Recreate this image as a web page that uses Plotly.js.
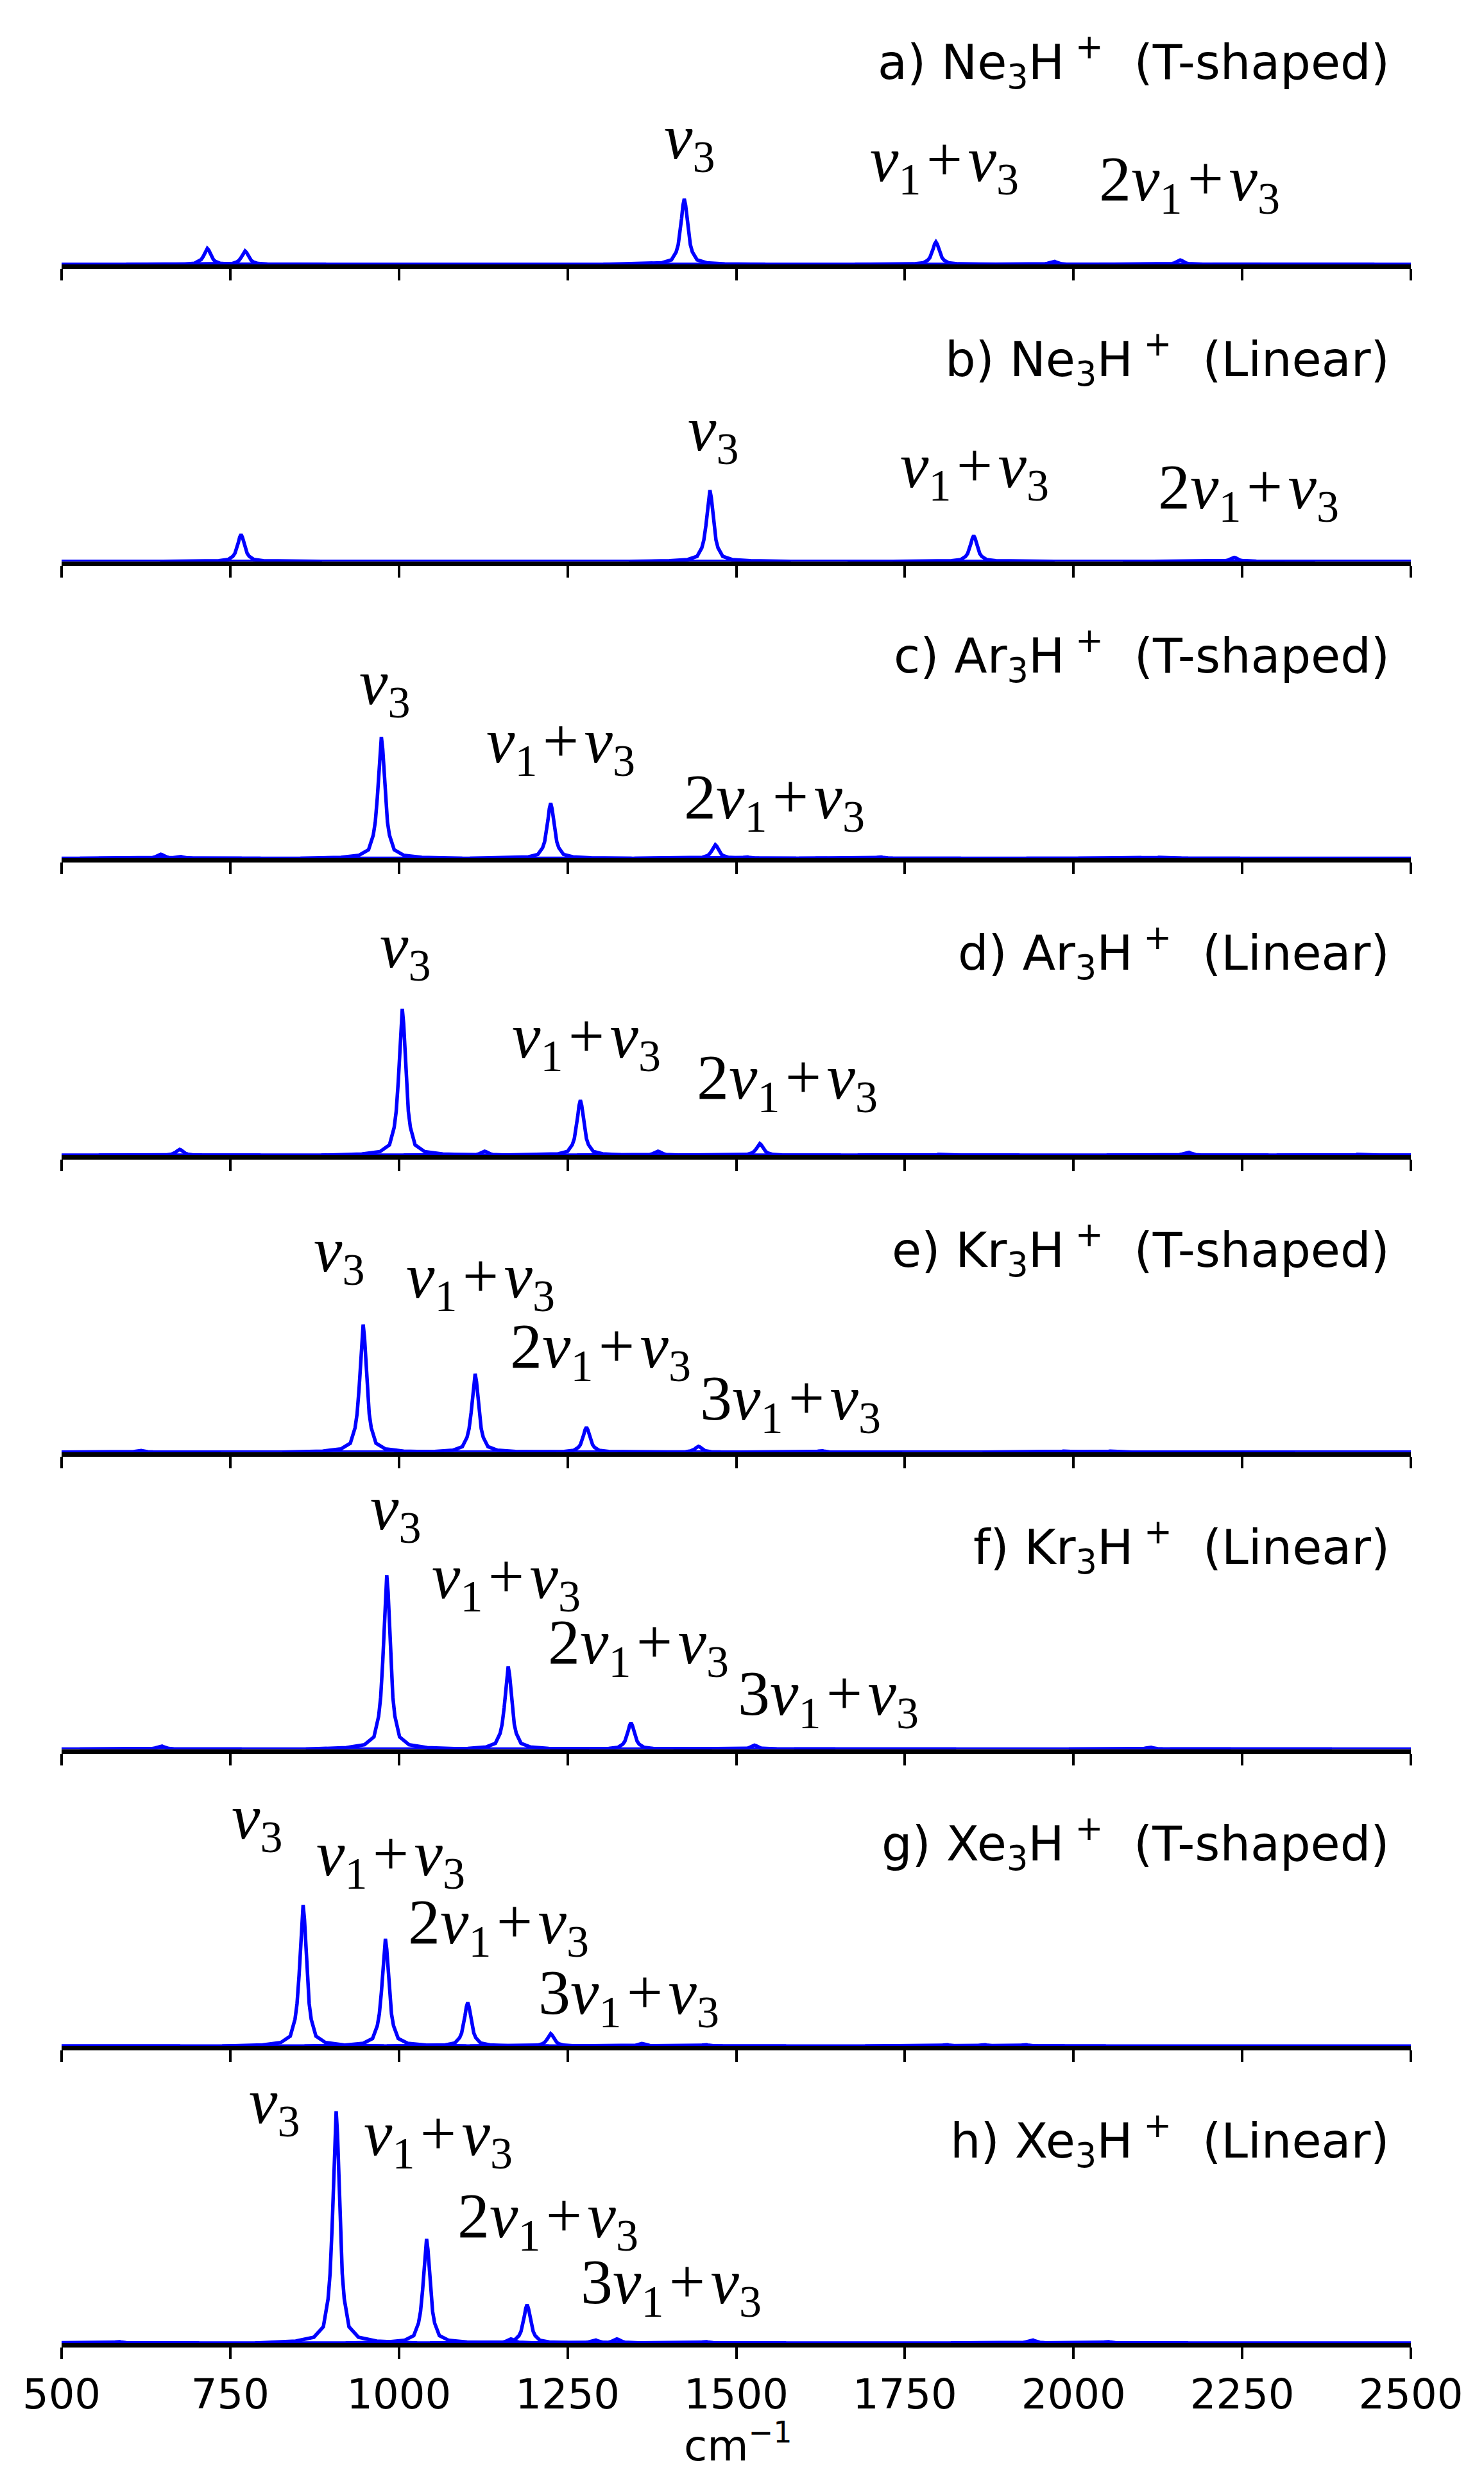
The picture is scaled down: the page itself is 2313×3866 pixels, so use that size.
<!DOCTYPE html>
<html>
<head>
<meta charset="utf-8">
<script src="https://cdn.plot.ly/plotly-3.0.1.min.js"></script>
<style>
  html, body { margin: 0; padding: 0; background: #ffffff; }
  #chart { width: 2313px; height: 3866px; }
</style>
</head>
<body>
<div id="chart"></div>
<script>
// ---------------- DATA ----------------
// Peak positions (cm^-1) and peak intensities (arbitrary units, tallest = 1)
const panelTitles = [
  "a) Ne<sub>3</sub>H<sup>\u00a0+</sup>\u00a0\u00a0(T-shaped)",
  "b) Ne<sub>3</sub>H<sup>\u00a0+</sup>\u00a0\u00a0(Linear)",
  "c) Ar<sub>3</sub>H<sup>\u00a0+</sup>\u00a0\u00a0(T-shaped)",
  "d) Ar<sub>3</sub>H<sup>\u00a0+</sup>\u00a0\u00a0(Linear)",
  "e) Kr<sub>3</sub>H<sup>\u00a0+</sup>\u00a0\u00a0(T-shaped)",
  "f) Kr<sub>3</sub>H<sup>\u00a0+</sup>\u00a0\u00a0(Linear)",
  "g) Xe<sub>3</sub>H<sup>\u00a0+</sup>\u00a0\u00a0(T-shaped)",
  "h) Xe<sub>3</sub>H<sup>\u00a0+</sup>\u00a0\u00a0(Linear)"
];

const posA = [716, 772, 1423, 1796, 1970, 2158, 2326];
const intA = [0.069, 0.058, 0.283, 0.097, 0.014, 0.019, 0.003];

const posB = [766, 1461, 1785, 1852, 2193, 2238];
const intB = [0.116, 0.307, 0.003, 0.111, 0.003, 0.017];

const posC = [647, 675, 974, 1225, 1469, 1515, 1713, 2050, 2127];
const intC = [0.017, 0.008, 0.524, 0.238, 0.058, 0.006, 0.006, 0.003, 0.004];

const posD = [675, 1005, 1127, 1269, 1384, 1535, 1800, 2169, 2421];
const intD = [0.025, 0.632, 0.017, 0.238, 0.017, 0.050, 0.004, 0.014, 0.004];

const posE = [616, 947, 1113, 1278, 1444, 1626, 1985, 2054, 2134, 2208];
const intE = [0.008, 0.551, 0.338, 0.108, 0.025, 0.006, 0.004, 0.004, 0.003, 0.003];

const posF = [647, 982, 1162, 1344, 1527, 1706, 2113, 2263];
const intF = [0.014, 0.751, 0.357, 0.114, 0.017, 0.003, 0.008, 0.003];

const posG = [556, 858, 980, 1102, 1225, 1360, 1454, 1811, 1867, 1928];
const intG = [0.003, 0.609, 0.463, 0.188, 0.053, 0.011, 0.006, 0.006, 0.006, 0.006];

const posH = [584, 907, 1041, 1166, 1190, 1290, 1323, 1454, 1938, 2050];
const intH = [0.006, 1.000, 0.449, 0.017, 0.166, 0.014, 0.017, 0.006, 0.014, 0.006];

// Line-shape: relative height at distance (cm^-1) from a peak centre
const profileOffset = [0, 2, 4, 6, 9, 12, 19, 33, 60, 120];
const profileRel    = [1, 0.9, 0.7, 0.5, 0.3, 0.19, 0.07, 0.025, 0.008, 0];

// x axis
const xTicks = [500, 750, 1000, 1250, 1500, 1750, 2000, 2250, 2500];
const xTitle = "cm<sup>\u22121</sup>";

// Peak assignment labels
const peakLabelText = {
  v3:    "<i>\u03bd</i><sub>3</sub>",
  v1v3:  "<i>\u03bd</i><sub>1</sub>\u200a+\u200a<i>\u03bd</i><sub>3</sub>",
  v2v1v3:"2<i>\u03bd</i><sub>1</sub>\u200a+\u200a<i>\u03bd</i><sub>3</sub>",
  v3v1v3:"3<i>\u03bd</i><sub>1</sub>\u200a+\u200a<i>\u03bd</i><sub>3</sub>"
};
const labelKeys = [
  ["v3","v1v3","v2v1v3"],
  ["v3","v1v3","v2v1v3"],
  ["v3","v1v3","v2v1v3"],
  ["v3","v1v3","v2v1v3"],
  ["v3","v1v3","v2v1v3","v3v1v3"],
  ["v3","v1v3","v2v1v3","v3v1v3"],
  ["v3","v1v3","v2v1v3","v3v1v3"],
  ["v3","v1v3","v2v1v3","v3v1v3"]
];

// ---------------- LAYOUT HELPERS ----------------
const allPos = [posA, posB, posC, posD, posE, posF, posG, posH];
const allInt = [intA, intB, intC, intD, intE, intF, intG, intH];

const FIG_W = 2313, FIG_H = 3866;
const M = {l: 96, r: 114, t: 0, b: 215};
const plotH = FIG_H - M.t - M.b;
const plotW = FIG_W - M.l - M.r;
const zeroY = i => 412 + i * 462.7;           // pixel row of each panel's axis
const panelPx = 400;                            // panel height in px
const yMax = panelPx / 361;                     // data range shown in each panel
const py = Y => (plotH - (Y - M.t)) / plotH;    // pixel row -> paper y
const px = X => (X - M.l) / plotW;              // pixel column -> paper x

// label positions (layout only): [left x in cm^-1, baseline px above the axis]
const labelPlace = [
  [[1391,164],[1696,130],[2036,99]],
  [[1426,172],[1741,115],[2123,82]],
  [[939,240],[1128,149],[1421,62]],
  [[970,293],[1166,152],[1440,88]],
  [[872,281],[1009,240],[1163,131],[1444,50]],
  [[956,342],[1047,235],[1219,133],[1500,53]],
  [[750,323],[876,266],[1012,160],[1205,50]],
  [[776,342],[946,292],[1085,164],[1267,61]]
];

// ---------------- BUILD ----------------
const traces = [];
const layout = {
  width: FIG_W, height: FIG_H,
  margin: M,
  paper_bgcolor: "#ffffff",
  plot_bgcolor: "rgba(0,0,0,0)",
  showlegend: false,
  annotations: [],
  font: {family: "DejaVu Sans", color: "#000000"}
};

// mirrored line-shape table
const offs = [], rels = [];
for (let k = profileOffset.length - 1; k > 0; k--) { offs.push(-profileOffset[k]); rels.push(profileRel[k]); }
for (let k = 0; k < profileOffset.length; k++) { offs.push(profileOffset[k]); rels.push(profileRel[k]); }

const TITLE_SIZE = 75;
const LABEL_SIZE = 100;

for (let i = 0; i < 8; i++) {
  const n = i + 1;
  const xa = n === 1 ? "x" : "x" + n;
  const ya = n === 1 ? "y" : "y" + n;
  const xs = [xTicks[0], xTicks[xTicks.length - 1], null];
  const ys = [0, 0, null];
  allPos[i].forEach((c, j) => {
    const h = allInt[i][j];
    for (let k = 0; k < offs.length; k++) { xs.push(c + offs[k]); ys.push(h * rels[k]); }
    xs.push(null); ys.push(null);
  });
  traces.push({
    type: "scatter", mode: "lines", x: xs, y: ys,
    xaxis: xa, yaxis: ya,
    line: {color: "#0000ff", width: 5.5},
    connectgaps: false, hoverinfo: "skip"
  });

  const Y0 = zeroY(i);
  layout["xaxis" + (n === 1 ? "" : n)] = {
    domain: [0, 1],
    anchor: ya,
    range: [xTicks[0], xTicks[xTicks.length - 1]],
    tickmode: "array", tickvals: xTicks, ticktext: xTicks.map(String),
    showticklabels: i === 7,
    ticks: "outside", ticklen: 18, tickwidth: 4, tickcolor: "#000000",
    showline: true, linewidth: 7, linecolor: "#000000",
    showgrid: false, zeroline: false,
    tickfont: {family: "DejaVu Sans", size: 64, color: "#000000"}
  };
  layout["yaxis" + (n === 1 ? "" : n)] = {
    domain: [py(Y0), py(Y0 - panelPx)],
    anchor: xa,
    range: [0, yMax],
    visible: false, showgrid: false, zeroline: false
  };

  // panel title
  layout.annotations.push({
    xref: "paper", yref: "paper",
    x: px(2168), y: py(Y0 - 290 - 26),
    xanchor: "right", yanchor: "middle",
    text: panelTitles[i], showarrow: false,
    font: {family: "DejaVu Sans", size: TITLE_SIZE, color: "#000000"}
  });

  // peak labels
  labelKeys[i].forEach((key, j) => {
    const [cm, hpx] = labelPlace[i][j];
    layout.annotations.push({
      xref: xa, yref: "paper",
      x: cm, y: py(Y0 - hpx - 27),
      xanchor: "left", yanchor: "middle",
      text: peakLabelText[key], showarrow: false,
      font: {family: "Liberation Serif", size: LABEL_SIZE, color: "#000000"}
    });
  });
}

// x-axis title
layout.annotations.push({
  xref: "paper", yref: "paper",
  x: px(1150), y: py(3806),
  xanchor: "center", yanchor: "middle",
  text: xTitle, showarrow: false,
  font: {family: "DejaVu Sans", size: 66, color: "#000000"}
});

Plotly.newPlot("chart", traces, layout, {staticPlot: true, displayModeBar: false});
</script>
</body>
</html>
